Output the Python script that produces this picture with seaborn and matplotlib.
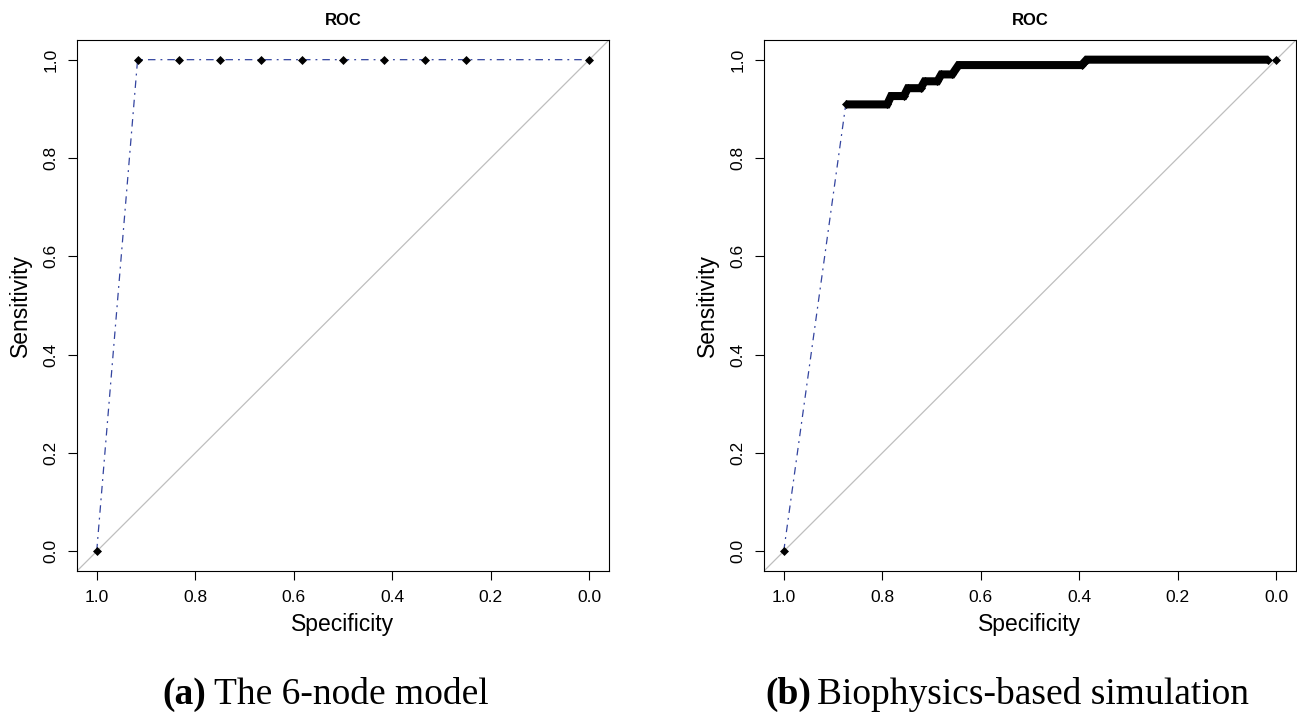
import pandas as pd
import seaborn as sns
import matplotlib.pyplot as plt

# (a) 6-node model: ROC points (specificity, sensitivity)
spec_a = [1.0, 0.917, 0.833, 0.75, 0.667, 0.583, 0.5, 0.417, 0.333, 0.25, 0.0]
sens_a = [0.0, 1.0, 1.0, 1.0, 1.0, 1.0, 1.0, 1.0, 1.0, 1.0, 1.0]

# (b) biophysics-based simulation: corners of the dense staircase of points
spec_b = [1.0, 0.874, 0.790, 0.782, 0.756, 0.748, 0.722, 0.714, 0.688, 0.680,
          0.658, 0.645, 0.395, 0.385, 0.016, 0.0]
sens_b = [0.0, 0.909, 0.909, 0.926, 0.926, 0.942, 0.942, 0.956, 0.956, 0.970,
          0.970, 0.989, 0.989, 1.0, 1.0, 1.0]

# chance diagonal
chance_spec = [1.0, 0.0]
chance_sens = [0.0, 1.0]

ticks = [1.0, 0.8, 0.6, 0.4, 0.2, 0.0]
tick_labels = ["1.0", "0.8", "0.6", "0.4", "0.2", "0.0"]

captions = [("(a)", "The 6-node model"), ("(b)", "Biophysics-based simulation")]

sns.set_theme(style="white")
plt.rcParams['font.family'] = ['Liberation Sans', 'DejaVu Sans']
plt.rcParams['text.color'] = 'black'
plt.rcParams['axes.labelcolor'] = 'black'

blue = '#33449f'
dotdash = (0, (6, 4, 1.5, 4))

df_a = pd.DataFrame({'spec': spec_a, 'sens': sens_a})
df_b = pd.DataFrame({'spec': spec_b, 'sens': sens_b})
band = df_b.iloc[1:-1]

fig = plt.figure(figsize=(12.97, 7.12), dpi=100)
ax_a = fig.add_axes([77 / 1297, 141 / 712, 532 / 1297, 531 / 712])
ax_b = fig.add_axes([764 / 1297, 141 / 712, 532 / 1297, 531 / 712])

for ax, df in [(ax_a, df_a), (ax_b, df_b)]:
    ax.axline((chance_spec[0], chance_sens[0]), (chance_spec[1], chance_sens[1]),
              color='#bebebe', lw=0.9, zorder=1)
    sns.lineplot(df, x='spec', y='sens', ax=ax, color=blue, lw=0.9,
                 linestyle=dotdash, sort=False, estimator=None, zorder=2)
    if df is df_b:
        sns.lineplot(band, x='spec', y='sens', ax=ax, color='black', lw=5.8,
                     sort=False, estimator=None, solid_capstyle='butt',
                     solid_joinstyle='miter', zorder=3)
    sns.scatterplot(df, x='spec', y='sens', ax=ax, marker='D', s=21,
                    color='black', linewidth=0, zorder=4)

    ax.set_xlim(1.04, -0.04)
    ax.set_ylim(-0.04, 1.04)
    ax.set_xticks(ticks)
    ax.set_xticklabels(tick_labels)
    ax.set_yticks(ticks)
    ax.set_yticklabels(tick_labels, rotation=90, va='center')
    ax.tick_params(direction='out', length=6.5, width=0.8, labelsize=12.5,
                   pad=7, bottom=True, left=True, colors='black')
    for sp in ax.spines.values():
        sp.set_visible(True)
        sp.set_color('black')
        sp.set_linewidth(0.8)

    ax.set_title('ROC', fontsize=12, fontweight='bold', pad=11)
    ax.set_xlabel('Specificity', fontsize=16.5, va='center')
    ax.set_ylabel('Sensitivity', fontsize=16.5, va='center', rotation_mode='anchor')
    ax.xaxis.set_label_coords(0.5, (571 - 624) / 531)
    ax.yaxis.set_label_coords((20 - 77) / 532, 0.5)

for (tag, text), x_tag, x_text in zip(captions, [162, 765], [214, 817]):
    fig.text(x_tag / 1297, 8 / 712, tag, family='Liberation Serif',
             fontweight='bold', fontsize=27, va='baseline')
    fig.text(x_text / 1297, 8 / 712, text, family='Liberation Serif',
             fontsize=27, va='baseline')

fig.savefig('out.png', dpi=100)
